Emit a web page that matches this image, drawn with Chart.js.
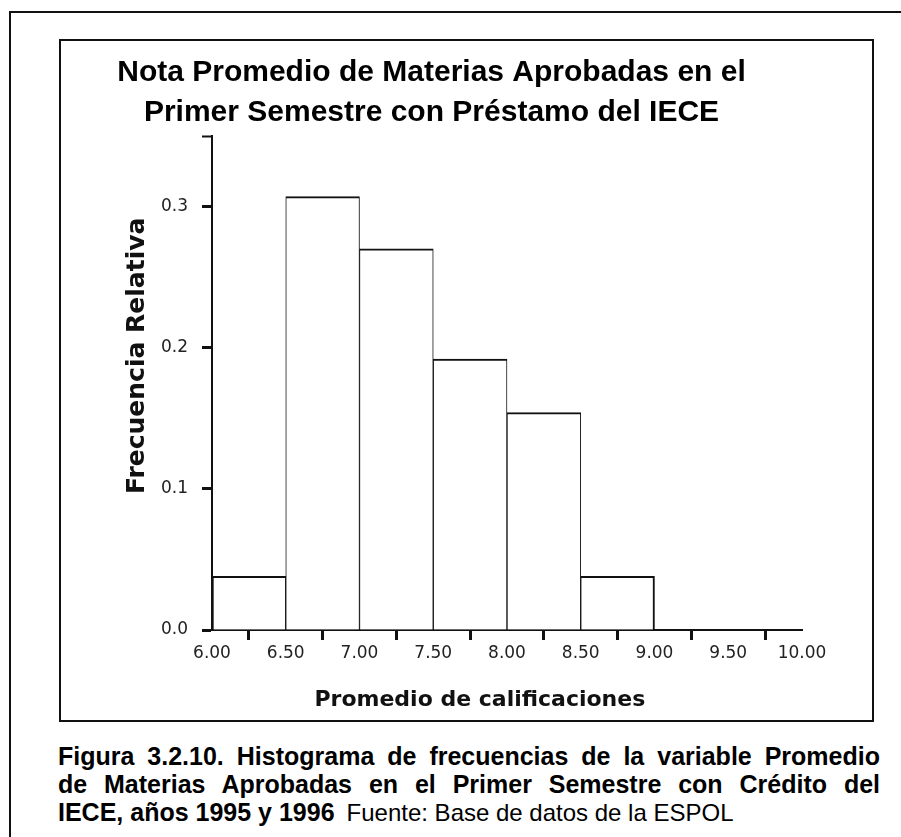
<!DOCTYPE html>
<html>
<head>
<meta charset="utf-8">
<script src="https://cdn.jsdelivr.net/npm/chart.js@4.4.1/dist/chart.umd.min.js"></script>
<style>
  body { margin: 0; background: #fff; width: 901px; height: 837px; overflow: hidden; position: relative;
         font-family: "Liberation Sans", Arial, sans-serif; }
  #outer { position: absolute; left: 9px; top: 11px; width: 1000px; height: 1000px; border: 2px solid #111; }
  #inner { position: absolute; left: 59px; top: 39px; width: 815px; height: 683px; box-sizing: border-box; border: 2px solid #111; }
  #wrap { position: absolute; left: 61px; top: 41px; width: 811px; height: 679px; }
  #caption { position: absolute; left: 58px; top: 742px; width: 822px; font-size: 25px; font-weight: bold; line-height: 28px; color: #000; }
  .j { text-align: justify; text-align-last: justify; white-space: nowrap; }
  .src { font-weight: normal; font-size: 24px; margin-left: 12px; }
</style>
</head>
<body>
<div id="outer"></div>
<div id="inner"></div>
<div id="wrap"><canvas id="chart" width="811" height="679"></canvas></div>
<div id="caption">
  <div class="j">Figura 3.2.10. Histograma de frecuencias de la variable Promedio</div>
  <div class="j">de Materias Aprobadas en el Primer Semestre con Crédito del</div>
  <div>IECE, años 1995 y 1996<span class="src">Fuente: Base de datos de la ESPOL</span></div>
</div>
<script>
const binMids = [6.25, 6.75, 7.25, 7.75, 8.25, 8.75];
const relFreq = [0.038, 0.307, 0.270, 0.192, 0.154, 0.038];
const xTicks = [6, 6.5, 7, 7.5, 8, 8.5, 9, 9.5, 10];
const yTicks = [0, 0.1, 0.2, 0.3, 0.35];
const titleLines = ['Nota Promedio de Materias Aprobadas en el', 'Primer Semestre con Préstamo del IECE'];
const xTitle = 'Promedio de calificaciones';
const yTitle = 'Frecuencia Relativa';

const lastBar = binMids.length - 1;

// titulos de ejes, posicionados respecto al area del grafico
const axisTitles = {
    id: 'axisTitles',
    afterDraw(chart) {
        const { ctx, chartArea: a } = chart;
        ctx.save();
        ctx.fillStyle = '#111';
        ctx.textAlign = 'center';
        ctx.textBaseline = 'alphabetic';
        ctx.font = 'bold 22px "DejaVu Sans"';
        ctx.fillText(xTitle, a.left + 0.454 * (a.right - a.left), a.bottom + 76);
        ctx.font = 'bold 25px "DejaVu Sans"';
        ctx.translate(a.left - 68, a.top + 0.445 * (a.bottom - a.top));
        ctx.rotate(-Math.PI / 2);
        ctx.fillText(yTitle, 0, 0);
        ctx.restore();
    }
};

new Chart(document.getElementById('chart'), {
    type: 'bar',
    data: {
        datasets: [{
            data: binMids.map((x, i) => ({ x: x, y: relFreq[i] })),
            backgroundColor: '#fff',
            borderColor: '#111',
            borderSkipped: false,
            borderWidth: ctx => ({
                top: 2,
                bottom: 0,
                left: ctx.dataIndex === 0 ? 2 : 1,
                right: ctx.dataIndex === lastBar ? 2 : 1
            }),
            barPercentage: 1,
            categoryPercentage: 1
        }]
    },
    options: {
        responsive: false,
        animation: false,
        layout: { padding: { left: 0, right: 70, top: 0, bottom: 0 } },
        plugins: {
            legend: { display: false },
            tooltip: { enabled: false },
            title: {
                display: true,
                text: titleLines,
                color: '#000',
                font: { family: '"Liberation Sans", Arial, sans-serif', size: 30, weight: 'bold', lineHeight: 40 / 30 },
                padding: { top: 12, bottom: 3 }
            }
        },
        scales: {
            x: {
                type: 'linear',
                min: 6, max: 10,
                offset: false,
                afterBuildTicks: s => { s.ticks = xTicks.map(v => ({ value: v })); },
                afterFit: s => { s.height = 90; },
                ticks: {
                    autoSkip: false, maxRotation: 0,
                    padding: 3,
                    color: '#222',
                    font: { family: '"DejaVu Sans"', size: 17 },
                    callback: v => v.toFixed(2)
                },
                grid: { drawOnChartArea: false, tickLength: 10, tickWidth: 3, tickColor: '#111' },
                border: { color: '#111', width: 2 }
            },
            y: {
                min: 0, max: 0.35,
                afterBuildTicks: s => { s.ticks = yTicks.map(v => ({ value: v })); },
                afterFit: s => { s.width = 151; },
                ticks: {
                    padding: 14,
                    color: '#222',
                    font: { family: '"DejaVu Sans"', size: 17 },
                    callback: v => (v === 0.35 ? '' : v.toFixed(1))
                },
                grid: {
                    drawOnChartArea: false, tickLength: 10, tickColor: '#111',
                    tickWidth: ctx => (ctx.tick && ctx.tick.value === 0.35 ? 2 : 3)
                },
                border: { color: '#111', width: 2 }
            }
        }
    },
    plugins: [axisTitles]
});
</script>
</body>
</html>
